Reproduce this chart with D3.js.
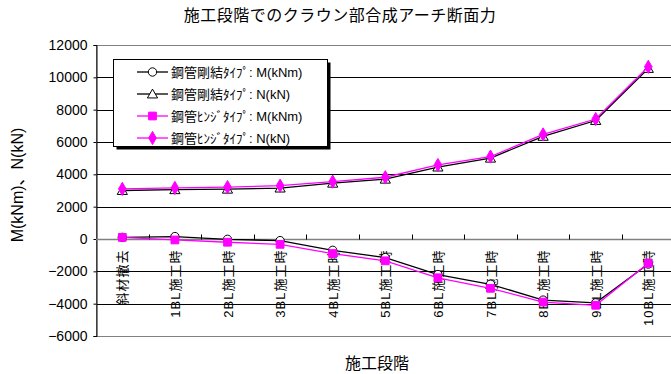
<!DOCTYPE html>
<html>
<head>
<meta charset="utf-8">
<script src="https://cdn.jsdelivr.net/npm/d3@7/dist/d3.min.js"></script>
<style>
  html, body { margin: 0; padding: 0; background: #fff; }
  svg { display: block; font-family: "Liberation Sans", Arial, "Noto Sans CJK JP", sans-serif; }
</style>
</head>
<body>
<svg id="chart" width="671" height="374"></svg>
<script>
// 施工段階ごとのクラウン部合成アーチ断面力
const categories = ["斜材撤去", "1BL施工時", "2BL施工時", "3BL施工時", "4BL施工時", "5BL施工時",
                    "6BL施工時", "7BL施工時", "8BL施工時", "9BL施工時", "10BL施工時"];
const rigidM = [100, 150, -20, -100, -700, -1150, -2200, -2800, -3780, -3950, -1550];
const rigidN = [3000, 3050, 3080, 3150, 3450, 3700, 4450, 5000, 6350, 7330, 10550];
const hingeM = [100, -60, -200, -330, -900, -1350, -2400, -3050, -3900, -4100, -1500];
const hingeN = [3100, 3160, 3210, 3300, 3550, 3820, 4580, 5100, 6470, 7420, 10650];
const yTicks = [-6000, -4000, -2000, 0, 2000, 4000, 6000, 8000, 10000, 12000];
const seriesNames = ["鋼管剛結ﾀｲﾌﾟ: M(kNm)", "鋼管剛結ﾀｲﾌﾟ: N(kN)", "鋼管ﾋﾝｼﾞﾀｲﾌﾟ: M(kNm)", "鋼管ﾋﾝｼﾞﾀｲﾌﾟ: N(kN)"];

const series = [
  { name: seriesNames[0], values: rigidM, color: "#000000", marker: "circle" },
  { name: seriesNames[1], values: rigidN, color: "#000000", marker: "triangle" },
  { name: seriesNames[2], values: hingeM, color: "#FF00FF", marker: "square" },
  { name: seriesNames[3], values: hingeN, color: "#FF00FF", marker: "diamond" }
];

const svg = d3.select("#chart");
const plot = { left: 96, top: 45, bottom: 336, step: 52.6 };

const x = d3.scaleBand().domain(categories)
  .range([plot.left, plot.left + plot.step * categories.length]).padding(0);
const cx = c => x(c) + x.bandwidth() / 2;
const y = d3.scaleLinear().domain([-6000, 12000]).range([plot.bottom, plot.top]);
const right = plot.left + plot.step * categories.length;

// 目盛線
svg.append("g").selectAll("line").data(yTicks.filter(v => v !== 0 && v !== 12000 && v !== -6000))
  .join("line")
  .attr("x1", plot.left).attr("x2", right)
  .attr("y1", d => Math.round(y(d)) + 0.5).attr("y2", d => Math.round(y(d)) + 0.5)
  .attr("stroke", "#000").attr("stroke-width", 1);

// プロットエリア枠
svg.append("rect")
  .attr("x", plot.left + 0.5).attr("y", Math.round(y(12000)) + 0.5)
  .attr("width", right - plot.left).attr("height", Math.round(y(-6000)) - Math.round(y(12000)))
  .attr("fill", "none").attr("stroke", "#808080");

// 縦軸
const yAxis = d3.axisLeft(y).tickValues(yTicks).tickSize(3).tickPadding(6)
  .tickFormat(d => d < 0 ? "−" + Math.abs(d) : String(d));
const gy = svg.append("g").attr("transform", `translate(${plot.left + 0.5},0)`).call(yAxis);
gy.select(".domain").attr("stroke", "#000");
gy.selectAll(".tick line").attr("stroke", "#000");
gy.selectAll(".tick text").attr("font-size", 14).attr("fill", "#000")
  .attr("font-family", "'Liberation Sans', Arial, sans-serif");

// 横軸（0の位置）
const y0 = Math.round(y(0)) + 0.5;
svg.append("line").attr("x1", plot.left).attr("x2", right)
  .attr("y1", y0).attr("y2", y0).attr("stroke", "#808080").attr("stroke-width", 1.5);
svg.append("g").selectAll("line").data(categories.slice(1))
  .join("line")
  .attr("x1", d => Math.round(x(d)) + 0.5).attr("x2", d => Math.round(x(d)) + 0.5)
  .attr("y1", y0).attr("y2", y0 - 5)
  .attr("stroke", "#000");

// 項目ラベル（縦書き）
svg.append("g").selectAll("text").data(categories)
  .join("text")
  .attr("transform", d => `translate(${cx(d) + 5},${y0 + 10}) rotate(-90)`)
  .attr("text-anchor", "end")
  .attr("font-size", 13)
  .attr("letter-spacing", 1)
  .attr("fill", "#000")
  .text(d => d);

// 系列
const line = d3.line().x((d, i) => cx(categories[i])).y(d => y(d));
const symbolOf = {
  circle: d3.symbol().type(d3.symbolCircle).size(55),
  triangle: d3.symbol().type(d3.symbolTriangle).size(45),
  square: d3.symbol().type(d3.symbolSquare).size(60),
  diamond: d3.symbol().type(d3.symbolDiamond).size(50)
};
function drawMarker(g, s) {
  const filled = s.marker === "square" || s.marker === "diamond";
  g.attr("d", symbolOf[s.marker])
    .attr("fill", filled ? s.color : "#fff")
    .attr("stroke", s.color)
    .attr("stroke-width", 1);
}
series.forEach(s => {
  const g = svg.append("g");
  g.append("path").datum(s.values).attr("d", line)
    .attr("fill", "none").attr("stroke", s.color).attr("stroke-width", 1.3);
  g.selectAll("path.m").data(s.values).join("path").attr("class", "m")
    .attr("transform", (d, i) => `translate(${cx(categories[i])},${y(d) + (s.marker === "triangle" ? 1 : 0)})`)
    .call(sel => drawMarker(sel, s));
});

// 凡例
const lg = svg.append("g").attr("transform", "translate(113,59)");
lg.append("rect").attr("x", 3.5).attr("y", 3.5).attr("width", 214).attr("height", 87).attr("fill", "#000");
lg.append("rect").attr("x", 0.5).attr("y", 0.5).attr("width", 214).attr("height", 87)
  .attr("fill", "#fff").attr("stroke", "#000");
series.forEach((s, i) => {
  const yy = 13 + i * 22;
  const row = lg.append("g").attr("transform", `translate(0,${yy})`);
  row.append("line").attr("x1", 24).attr("x2", 55).attr("y1", 0).attr("y2", 0)
    .attr("stroke", s.color).attr("stroke-width", 1.3);
  row.append("path").attr("transform", `translate(39.5,${s.marker === "triangle" ? 1 : 0})`)
    .call(sel => drawMarker(sel, s));
  row.append("text").attr("x", 58).attr("y", 0).attr("dy", "0.36em")
    .attr("font-size", 13).attr("fill", "#000").text(s.name);
});

// タイトル
svg.append("text").attr("x", 340).attr("y", 21).attr("text-anchor", "middle")
  .attr("font-size", 16).attr("letter-spacing", 0.5).attr("fill", "#000")
  .text("施工段階でのクラウン部合成アーチ断面力");
svg.append("text").attr("x", 377).attr("y", 369).attr("text-anchor", "middle")
  .attr("font-size", 16).attr("fill", "#000").text("施工段階");
svg.append("text").attr("transform", "translate(23,185) rotate(-90)").attr("text-anchor", "middle")
  .attr("font-size", 16).attr("fill", "#000").text("M(kNm)、N(kN)");
</script>
</body>
</html>
